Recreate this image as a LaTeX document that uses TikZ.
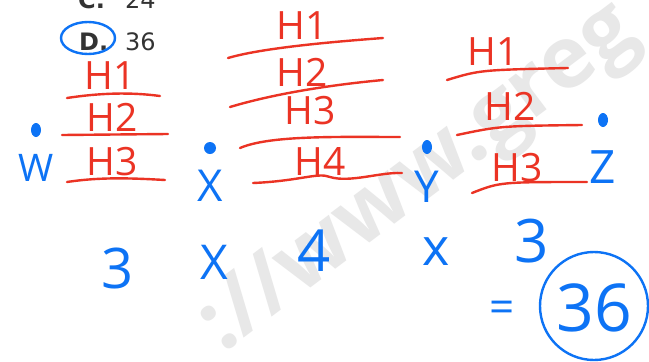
\documentclass[tikz,border=0pt]{standalone}
\usepackage{fontspec}
\setmainfont{Open Sans}
\newfontfamily\printfont{DejaVu Sans}
\definecolor{penred}{rgb}{0.92, 0.20, 0.14}
\definecolor{penblue}{rgb}{0.05, 0.45, 0.96}
\definecolor{printgray}{rgb}{0.2, 0.2, 0.2}
\definecolor{markgray}{rgb}{0.91, 0.91, 0.91}

\begin{document}
\begin{tikzpicture}[x=1pt,y=-1pt,
  hlab/.style={text=penred,inner sep=0pt,font=\fontsize{39}{39}\selectfont},
  hline/.style={draw=penred,line width=2.4pt,line cap=round},
  blet/.style={text=penblue,inner sep=0pt,font=\fontsize{#1}{#1}\selectfont},
  bpen/.style={draw=penblue,line width=2.4pt},
  choice/.style={text=printgray,inner sep=0pt,anchor=base west,font=\printfont\fontsize{24}{24}\selectfont}]
\useasboundingbox (0,0) rectangle (649,362);
\clip (0,0) rectangle (649,362);
\fill[white] (0,0) rectangle (649,362);

\node[text=markgray,rotate=37,font=\bfseries\fontsize{86}{86}\selectfont] (mark) at (420,180) {://www.greg};

\node[choice] (cl) at (78,8) {\bfseries C.};
\node[choice] (cv) at (125,8) {24};
\node[choice] (dl) at (79,50) {\bfseries D.};
\node[choice] (dv) at (125,50) {36};
\draw[bpen] (88,38) ellipse (27 and 16);

\node[hlab] (wh1) at (110,76) {H1};
\node[hlab] (wh2) at (112,117) {H2};
\node[hlab] (wh3) at (112,162) {H3};
\draw[hline] (67,98) .. controls (100,93) and (130,92) .. (160,96);
\draw[hline] (62,135) -- (168,134);
\draw[hline] (67,182) .. controls (100,177) and (130,178) .. (165,180);

\node[hlab] (xh1) at (302,26) {H1};
\node[hlab] (xh2) at (302,72) {H2};
\node[hlab] (xh3) at (310,111) {H3};
\node[hlab] (xh4) at (320,162) {H4};
\draw[hline] (228,58) .. controls (262,48) and (330,42) .. (383,38);
\draw[hline] (230,107) .. controls (280,92) and (340,84) .. (383,80);
\draw[hline] (240,148) .. controls (270,135) and (340,137) .. (400,137);
\draw[hline] (253,183) .. controls (300,181) and (318,172) .. (330,177)
  .. controls (350,183) and (380,172) .. (402,173);

\node[hlab] (yh1) at (493,52) {H1};
\node[hlab] (yh2) at (510,106) {H2};
\node[hlab] (yh3) at (517,168) {H3};
\draw[hline] (447,80) .. controls (480,70) .. (568,68);
\draw[hline] (457,135) .. controls (500,126) .. (582,125);
\draw[hline] (472,193) .. controls (500,182) .. (587,182);

\fill[penblue] (36,130) ellipse (5 and 7) node[blet=38,below=24pt] (w) {W};
\fill[penblue] (210,148) ellipse (6 and 6) node[blet=44,below=22pt] (x) {X};
\fill[penblue] (427,147) ellipse (5 and 7) node[blet=44,below=24pt] (y) {Y};
\fill[penblue] (603,120) ellipse (5 and 7) node[blet=46,below=30pt] (z) {Z};

\node[blet=56] (n1) at (118,268) {3};
\node[blet=48] (t1) at (214,262) {X};
\node[blet=58] (n2) at (314,251) {4};
\node[blet=52] (t2) at (436,252) {x};
\node[blet=60] (n3) at (532,241) {3};
\node[blet=44] (eq) at (502,312) {=};
\node[blet=66] (res) at (594,308) {36};
\draw[bpen] (594,306) ellipse (54 and 54);
\end{tikzpicture}
\end{document}
